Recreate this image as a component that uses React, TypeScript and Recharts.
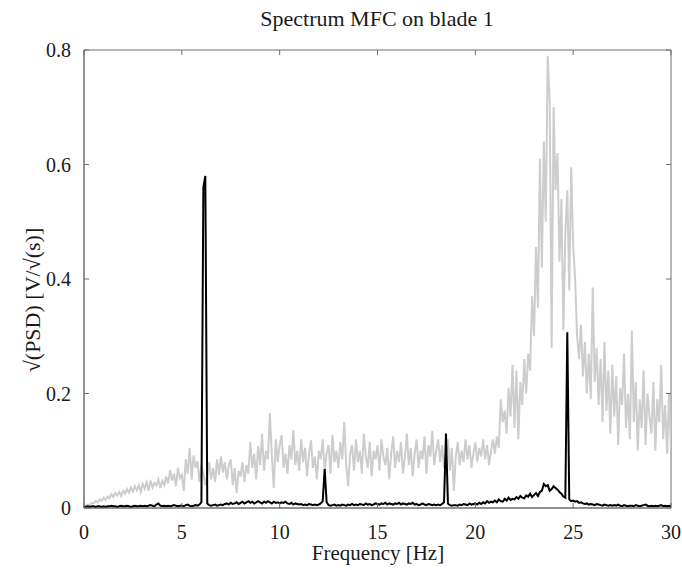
import { LineChart, Line, XAxis, YAxis, ReferenceArea } from 'recharts'

// frequency bins are 0.1 Hz apart, from 0 to 30 Hz
const FREQ_STEP = 0.1

// light grey spectrum (reference run)
const GRAY_PSD = [
  0.002, 0.004, 0.006, 0.005, 0.009, 0.008, 0.012, 0.010, 0.015, 0.013,
  0.018, 0.014, 0.020, 0.017, 0.024, 0.019, 0.026, 0.022, 0.028, 0.021,
  0.030, 0.025, 0.033, 0.027, 0.036, 0.029, 0.038, 0.031, 0.040, 0.028,
  0.042, 0.034, 0.045, 0.030, 0.048, 0.036, 0.044, 0.039, 0.050, 0.035,
  0.047, 0.040, 0.055, 0.043, 0.066, 0.048, 0.060, 0.038, 0.070, 0.052,
  0.058, 0.030, 0.085, 0.060, 0.105, 0.050, 0.092, 0.070, 0.082, 0.045,
  0.075, 0.060, 0.040, 0.055, 0.080, 0.050, 0.070, 0.045, 0.085, 0.058,
  0.090, 0.062, 0.080, 0.050, 0.075, 0.085, 0.040, 0.070, 0.026, 0.065,
  0.055, 0.080, 0.045, 0.075, 0.060, 0.115, 0.070, 0.095, 0.050, 0.108,
  0.075, 0.130, 0.065, 0.100, 0.085, 0.166, 0.090, 0.035, 0.120, 0.080,
  0.110, 0.127, 0.070, 0.095, 0.060, 0.110, 0.085, 0.136, 0.075, 0.100,
  0.065, 0.120, 0.080, 0.105, 0.055, 0.095, 0.118, 0.070, 0.090, 0.050,
  0.100, 0.085, 0.120, 0.065, 0.095, 0.110, 0.060, 0.128, 0.080, 0.100,
  0.070, 0.115, 0.085, 0.150, 0.075, 0.038, 0.095, 0.110, 0.065, 0.120,
  0.080, 0.100, 0.060, 0.130, 0.090, 0.070, 0.115, 0.055, 0.100, 0.085,
  0.110, 0.065, 0.120, 0.090, 0.075, 0.105, 0.050, 0.095, 0.125, 0.070,
  0.100, 0.080, 0.115, 0.060, 0.090, 0.130, 0.075, 0.105, 0.055, 0.095,
  0.120, 0.070, 0.100, 0.085, 0.125, 0.060, 0.110, 0.090, 0.135, 0.075,
  0.100, 0.120, 0.080, 0.110, 0.070, 0.095, 0.120, 0.065, 0.105, 0.030,
  0.090, 0.115, 0.075, 0.100, 0.080, 0.120, 0.085, 0.110, 0.070, 0.095,
  0.115, 0.080, 0.105, 0.090, 0.120, 0.085, 0.110, 0.075, 0.100, 0.120,
  0.095, 0.125, 0.105, 0.190, 0.150, 0.170, 0.130, 0.210, 0.160, 0.250,
  0.140, 0.240, 0.120, 0.220, 0.180, 0.260, 0.200, 0.270, 0.240, 0.370,
  0.300, 0.456, 0.350, 0.610, 0.420, 0.640, 0.500, 0.790, 0.710, 0.280,
  0.700, 0.555, 0.620, 0.430, 0.540, 0.310, 0.480, 0.555, 0.380, 0.595,
  0.460, 0.400, 0.300, 0.260, 0.320, 0.230, 0.290, 0.200, 0.270, 0.190,
  0.385, 0.220, 0.280, 0.180, 0.260, 0.150, 0.290, 0.170, 0.240, 0.130,
  0.250, 0.160, 0.230, 0.110, 0.210, 0.180, 0.270, 0.140, 0.200, 0.120,
  0.310, 0.150, 0.220, 0.100, 0.190, 0.140, 0.240, 0.110, 0.200, 0.160,
  0.130, 0.220, 0.100, 0.190, 0.150, 0.250, 0.120, 0.180, 0.095, 0.200,
  0.100,
]

// black spectrum with the rotor harmonics
const BLACK_PSD = [
  0.002, 0.002, 0.003, 0.002, 0.003, 0.003, 0.002, 0.003, 0.003, 0.002,
  0.003, 0.002, 0.003, 0.003, 0.004, 0.003, 0.003, 0.002, 0.003, 0.004,
  0.003, 0.003, 0.004, 0.003, 0.002, 0.003, 0.004, 0.003, 0.003, 0.004,
  0.003, 0.004, 0.003, 0.004, 0.005, 0.004, 0.003, 0.006, 0.008, 0.004,
  0.003, 0.004, 0.003, 0.004, 0.003, 0.004, 0.005, 0.004, 0.003, 0.004,
  0.004, 0.003, 0.005, 0.006, 0.004, 0.003, 0.004, 0.005, 0.004, 0.006,
  0.010, 0.560, 0.580, 0.008, 0.005, 0.004, 0.005, 0.006, 0.004, 0.005,
  0.006, 0.005, 0.007, 0.008, 0.006, 0.009, 0.007, 0.008, 0.010, 0.007,
  0.009, 0.011, 0.008, 0.010, 0.012, 0.009, 0.011, 0.008, 0.010, 0.012,
  0.010, 0.008, 0.011, 0.009, 0.012, 0.010, 0.008, 0.011, 0.009, 0.010,
  0.008, 0.010, 0.009, 0.011, 0.008, 0.007, 0.009, 0.006, 0.008, 0.007,
  0.006, 0.007, 0.005, 0.006, 0.005, 0.007, 0.006, 0.005, 0.006, 0.005,
  0.006, 0.008, 0.012, 0.068, 0.010, 0.005, 0.004, 0.005, 0.006, 0.004,
  0.005, 0.004, 0.006, 0.005, 0.004, 0.006, 0.005, 0.007, 0.005, 0.006,
  0.005, 0.007, 0.006, 0.005, 0.008, 0.006, 0.007, 0.005, 0.006, 0.008,
  0.007, 0.006, 0.008, 0.007, 0.009, 0.006, 0.008, 0.007, 0.006, 0.008,
  0.007, 0.009, 0.006, 0.008, 0.007, 0.006, 0.008, 0.007, 0.009, 0.006,
  0.007, 0.005, 0.006, 0.008, 0.006, 0.005, 0.007, 0.006, 0.005, 0.006,
  0.005, 0.006, 0.005, 0.007, 0.010, 0.130, 0.008, 0.005, 0.004, 0.005,
  0.005, 0.004, 0.006, 0.005, 0.007, 0.006, 0.005, 0.008, 0.006, 0.007,
  0.008, 0.006, 0.009, 0.007, 0.010, 0.008, 0.012, 0.009, 0.011, 0.010,
  0.013, 0.010, 0.015, 0.012, 0.011, 0.016, 0.013, 0.018, 0.014, 0.016,
  0.015, 0.019, 0.016, 0.021, 0.018, 0.017, 0.022, 0.020, 0.025, 0.019,
  0.023, 0.026, 0.021, 0.028, 0.030, 0.042, 0.038, 0.040, 0.030, 0.033,
  0.038, 0.035, 0.032, 0.028, 0.025, 0.020, 0.018, 0.307, 0.015, 0.012,
  0.013, 0.011, 0.012, 0.009, 0.010, 0.008, 0.007, 0.008, 0.006, 0.007,
  0.006, 0.005, 0.007, 0.006, 0.005, 0.004, 0.006, 0.005, 0.004, 0.005,
  0.004, 0.005, 0.004, 0.006, 0.004, 0.003, 0.005, 0.004, 0.003, 0.004,
  0.004, 0.003, 0.005, 0.004, 0.003, 0.004, 0.005, 0.006, 0.004, 0.003,
  0.004, 0.003, 0.004, 0.003, 0.004, 0.005, 0.003, 0.004, 0.003, 0.004,
  0.003,
]

const X_TICKS = [0, 5, 10, 15, 20, 25, 30]
const Y_TICKS = [0, 0.2, 0.4, 0.6, 0.8]

const W = 682
const H = 570
const MARGIN = { top: 50, right: 11, bottom: 32, left: 0 }
const X_AXIS_H = 30
const Y_AXIS_W = 84
const TICK_LEN = 5
const X_TICK_GAP = 17
const Y_TICK_GAP = 13

const FONT = '"Liberation Serif", "Times New Roman", serif'
const AXIS_COLOR = '#6e6e6e'
const TEXT_COLOR = '#1a1a1a'

const data = GRAY_PSD.map((v, i) => ({
  f: Math.round(i * FREQ_STEP * 10) / 10,
  gray: v,
  black: BLACK_PSD[i],
}))

// bottom tick: label plus matlab-style inner ticks at bottom and top of the box
function XTick(props: any) {
  const { x, y, payload } = props
  const base = y - X_TICK_GAP
  return (
    <g>
      <line x1={x} x2={x} y1={base} y2={base - TICK_LEN} stroke={AXIS_COLOR} />
      <line x1={x} x2={x} y1={MARGIN.top} y2={MARGIN.top + TICK_LEN} stroke={AXIS_COLOR} />
      <text x={x} y={y + 14} textAnchor="middle" fontSize={20} fontFamily={FONT} fill={TEXT_COLOR}>
        {payload.value}
      </text>
    </g>
  )
}

// left tick: label plus inner ticks at left and right of the box
function YTick(props: any) {
  const { x, y, payload } = props
  const base = x + Y_TICK_GAP
  const right = W - MARGIN.right
  const v = payload.value as number
  return (
    <g>
      <line x1={base} x2={base + TICK_LEN} y1={y} y2={y} stroke={AXIS_COLOR} />
      <line x1={right - TICK_LEN} x2={right} y1={y} y2={y} stroke={AXIS_COLOR} />
      <text x={x} y={y + 7} textAnchor="end" fontSize={20} fontFamily={FONT} fill={TEXT_COLOR}>
        {v === 0 ? '0' : v.toFixed(1)}
      </text>
    </g>
  )
}

export default function App() {
  return (
    <div style={{ position: 'absolute', left: 0, top: 0, width: W, height: H, background: '#fff' }}>
      <LineChart width={W} height={H} data={data} margin={MARGIN}>
        <XAxis
          dataKey="f"
          type="number"
          domain={[0, 30]}
          ticks={X_TICKS}
          height={X_AXIS_H}
          tickSize={0}
          tickLine={false}
          tickMargin={X_TICK_GAP}
          tick={XTick}
          stroke={AXIS_COLOR}
          allowDataOverflow
        />
        <YAxis
          type="number"
          domain={[0, 0.8]}
          ticks={Y_TICKS}
          width={Y_AXIS_W}
          tickSize={0}
          tickLine={false}
          tickMargin={Y_TICK_GAP}
          tick={YTick}
          stroke={AXIS_COLOR}
          allowDataOverflow
        />
        <Line
          dataKey="gray"
          stroke="#cdcdcd"
          strokeWidth={2}
          dot={false}
          activeDot={false}
          type="linear"
          isAnimationActive={false}
        />
        <Line
          dataKey="black"
          stroke="#000"
          strokeWidth={2}
          dot={false}
          activeDot={false}
          type="linear"
          isAnimationActive={false}
        />
        <ReferenceArea
          x1={0}
          x2={30}
          y1={0}
          y2={0.8}
          fill="none"
          fillOpacity={0}
          stroke={AXIS_COLOR}
          strokeWidth={1}
        />
      </LineChart>
      <svg
        width={W}
        height={H}
        style={{ position: 'absolute', left: 0, top: 0, pointerEvents: 'none' }}
        fontFamily={FONT}
        fill={TEXT_COLOR}
      >
        <text x={377} y={26} fontSize={22} textAnchor="middle">Spectrum MFC on blade 1</text>
        <text x={378} y={560} fontSize={21} textAnchor="middle">Frequency [Hz]</text>
        <text x={40} y={300} fontSize={22} textAnchor="middle" transform="rotate(-90 40 300)">
          √(PSD) [V/√(s)]
        </text>
      </svg>
    </div>
  )
}
